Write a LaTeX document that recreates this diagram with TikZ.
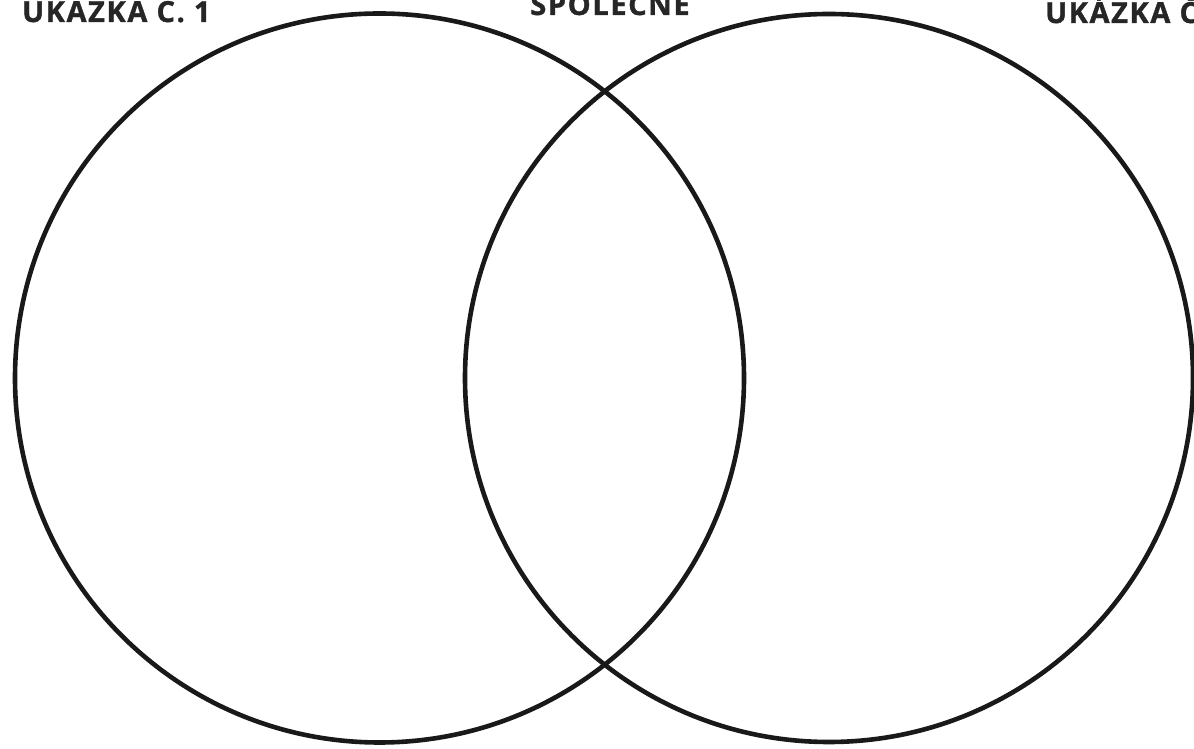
\documentclass[tikz,border=0pt]{standalone}
\usepackage{fontspec}
\setmainfont{Open Sans}
\newfontfamily\lblfont[LetterSpace=5.5,BoldFeatures={FakeBold=1.2}]{Open Sans}
\begin{document}
\begin{tikzpicture}[x=1pt,y=1pt,
  ring/.style={draw=black!90,line width=4.6pt},
  lbl/.style={font=\lblfont\fontsize{29}{32}\selectfont\bfseries,text=black!85,inner sep=0pt}]
\useasboundingbox (0,0) rectangle (1194,749);
\clip (0,0) rectangle (1194,749);
\fill[white] (0,0) rectangle (1194,749);
\node[circle,ring,minimum size=729pt,inner sep=0pt] (left) at (379.5,371) {};
\node[circle,ring,minimum size=728pt,inner sep=0pt] (right) at (829,371) {};
\node[lbl,anchor=base west] (t1) at (22,727) {UKÁZKA Č. 1};
\node[lbl,anchor=base] (t2) at (610,734) {SPOLEČNÉ};
\node[lbl,anchor=base west] (t3) at (1045,726) {UKÁZKA Č. 2};
\end{tikzpicture}
\end{document}
